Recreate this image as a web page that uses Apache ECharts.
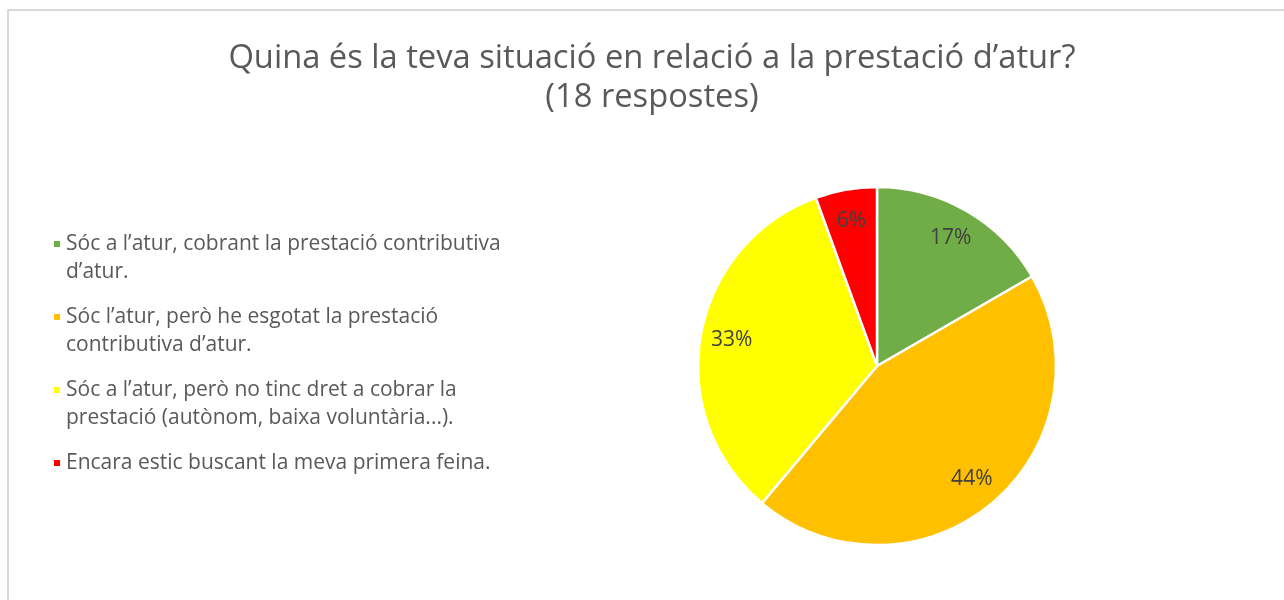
<!DOCTYPE html>
<html>
<head>
<meta charset="utf-8">
<script src="https://cdn.jsdelivr.net/npm/echarts@6/dist/echarts.min.js"></script>
<style>
  html, body { margin: 0; padding: 0; background: #ffffff; }
  #frame { position: absolute; left: 7px; top: 9px; width: 2000px; height: 2000px;
           border-left: 2px solid #d9d9d9; border-top: 2px solid #d9d9d9; }
  #chart { position: absolute; left: 0; top: 0; width: 1284px; height: 600px; }
</style>
</head>
<body>
<div id="frame"></div>
<div id="chart"></div>
<script>
const titleLines = ["Quina és la teva situació en relació a la prestació d’atur?", "(18 respostes)"];
const categories = [
  "Sóc a l’atur, cobrant la prestació contributiva d’atur.",
  "Sóc l’atur, però he esgotat la prestació contributiva d’atur.",
  "Sóc a l’atur, però no tinc dret a cobrar la prestació (autònom, baixa voluntària...).",
  "Encara estic buscant la meva primera feina."
];
const legendLines = [
  "Sóc a l’atur, cobrant la prestació contributiva\nd’atur.",
  "Sóc l’atur, però he esgotat la prestació\ncontributiva d’atur.",
  "Sóc a l’atur, però no tinc dret a cobrar la\nprestació (autònom, baixa voluntària...).",
  "Encara estic buscant la meva primera feina."
];
const counts = [3, 8, 6, 1];
const colors = ["#70ad47", "#ffc000", "#ffff00", "#ff0000"];

const FONT = "'Open Sans', 'Noto Sans', sans-serif";
const iconTwoLine = "path://M0,0L0,0M0,10L8,10L8,18L0,18ZM8,56L8,56";

const total = counts.reduce((a, b) => a + b, 0);
const data = categories.map((c, i) => ({ name: c, value: counts[i], itemStyle: { color: colors[i] } }));

const chart = echarts.init(document.getElementById('chart'), null, { renderer: 'canvas' });
chart.setOption({
  backgroundColor: 'transparent',
  animation: false,
  title: {
    text: titleLines.join("\n"),
    left: 647,
    top: 34,
    textAlign: 'center',
    textStyle: { fontFamily: FONT, fontSize: 32.7, fontWeight: 'normal', color: '#595959', lineHeight: 39 }
  },
  legend: {
    orient: 'vertical',
    left: 47,
    top: 224,
    itemWidth: 8,
    itemHeight: 56,
    itemGap: 15,
    selectedMode: false,
    data: categories.map(c => ({ name: c, icon: iconTwoLine })),
    formatter: name => {
      const t = legendLines[categories.indexOf(name)];
      return t.indexOf("\n") >= 0 ? t : t + "\n ";
    },
    textStyle: { fontFamily: FONT, fontSize: 21, color: '#595959', lineHeight: 28 }
  },
  series: [
    {
      type: 'pie',
      center: [877, 366],
      radius: [0, 179],
      startAngle: 90,
      clockwise: true,
      silent: true,
      label: { show: false },
      labelLine: { show: false },
      itemStyle: { borderColor: '#ffffff', borderWidth: 2.5 },
      data: data
    },
    {
      type: 'pie',
      center: [877, 366],
      radius: [110, 179],
      startAngle: 90,
      clockwise: true,
      silent: true,
      itemStyle: { color: 'transparent', borderWidth: 0 },
      labelLine: { show: false },
      label: {
        show: true,
        position: 'inside',
        fontFamily: FONT,
        fontSize: 21,
        color: '#404040',
        formatter: p => Math.round(p.value / total * 100) + '%'
      },
      data: categories.map((c, i) => ({ name: c, value: counts[i] }))
    }
  ]
});
</script>
</body>
</html>
